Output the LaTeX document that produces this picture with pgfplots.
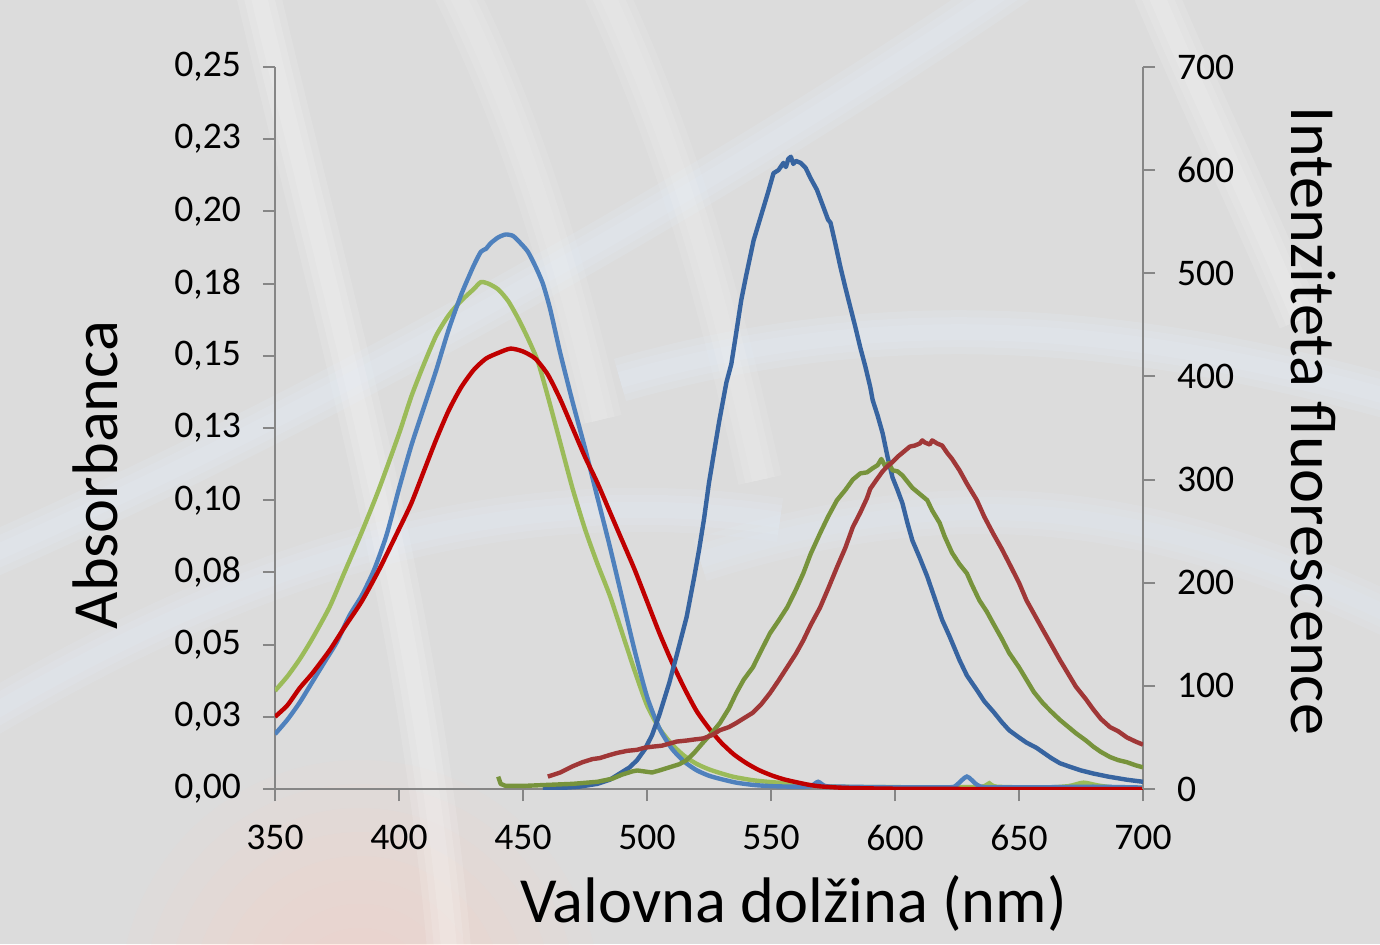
\documentclass[border=0pt]{standalone}
\usepackage{fontspec}
\setmainfont{Carlito}
\usepackage{pgfplots}
\pgfplotsset{compat=1.18}
\usetikzlibrary{backgrounds}

\definecolor{bggray}{RGB}{220,220,220}
\definecolor{axisgray}{RGB}{134,134,134}
\definecolor{absblue}{RGB}{79,129,189}
\definecolor{absred}{RGB}{192,0,0}
\definecolor{absgreen}{RGB}{155,187,89}
\definecolor{flblue}{RGB}{55,100,160}
\definecolor{flred}{RGB}{160,55,55}
\definecolor{flgreen}{RGB}{119,147,60}
\definecolor{strand}{RGB}{228,238,250}
\definecolor{glow}{RGB}{255,212,198}

% absorbance spectra (nm, A)
\pgfplotstableread{
x y
350 0.019
355 0.024
360 0.030
365 0.037
370 0.044
375 0.051
380 0.060
385 0.067
390 0.076
395 0.088
400 0.104
405 0.119
410 0.132
415 0.145
420 0.159
425 0.171
430 0.181
433 0.186
435 0.187
437 0.189
440 0.191
443 0.192
446 0.1915
449 0.189
452 0.186
455 0.181
458 0.175
461 0.166
465 0.151
470 0.134
475 0.118
480 0.101
485 0.084
490 0.066
495 0.048
500 0.032
505 0.021
510 0.014
515 0.0095
520 0.0065
525 0.0046
530 0.0034
536 0.0022
543 0.0014
550 0.001
560 0.0008
566 0.001
569 0.0025
572 0.001
580 0.0008
600 0.0006
622 0.0006
625 0.0015
629 0.0043
633 0.0015
637 0.0006
660 0.0006
680 0.0008
700 0.0005
}\absblue
\pgfplotstableread{
x y
350 0.025
355 0.029
360 0.035
365 0.040
372 0.048
378 0.056
385 0.065
392 0.076
400 0.090
405 0.099
410 0.110
415 0.121
420 0.131
425 0.139
430 0.145
435 0.149
440 0.151
445 0.1525
450 0.1515
455 0.149
460 0.1435
465 0.135
470 0.125
475 0.115
480 0.106
485 0.096
490 0.086
495 0.076
500 0.065
505 0.054
510 0.044
515 0.035
520 0.027
525 0.021
530 0.016
535 0.012
540 0.009
545 0.0066
550 0.0048
555 0.0034
560 0.0024
565 0.0015
570 0.0009
580 0.0004
600 0.0001
640 0
700 0
}\absred
\pgfplotstableread{
x y
350 0.034
355 0.039
360 0.045
365 0.052
372 0.063
378 0.075
385 0.089
392 0.104
400 0.123
405 0.136
410 0.147
415 0.157
420 0.164
425 0.169
430 0.173
433 0.1755
436 0.175
440 0.173
444 0.169
448 0.163
452 0.156
456 0.148
460 0.136
465 0.120
470 0.104
475 0.090
480 0.078
485 0.067
490 0.054
495 0.041
500 0.029
505 0.021
510 0.0155
515 0.0115
520 0.0087
525 0.0068
530 0.0054
535 0.0042
543 0.003
550 0.0024
556 0.002
570 0.001
583 0.0007
620 0.0006
635 0.0008
638 0.002
641 0.0008
660 0.0005
670 0.001
676 0.0022
682 0.0012
690 0.0004
700 0.0004
}\absgreen

% fluorescence spectra (nm, intensity)
\pgfplotstableread{
x y
458 0
465 1
472 2
480 5
485 9
489 15
493 21
496 28
499 38
502 52
505 72
509 103
512 130
516 167
519 205
521 232
523 262
525 297
527 326
529 355
532 394
534 412
535.5 435
538 474
540 498
543 532
545 548
547 564
549 580
551 597
553 600
555 607
556 603
557 611
558 613
559 606
560 609
562 607
564 602
566 592
568.5 581
571 565
573 552
574 549
576 528
578 506
580 486
582 467
584 448
586 428
588 410
590 390
591 377
593 362
595 345
597 322
599 302
601 290
603 277
605 258
607 241
610 224
613 206
616 185
619 164
622 148
626 125
629 110
633 96
636 85
640 74
643 65
646 57
650 50
653 45
657 40
660 35
663 30
666.5 25
670 22
675 18
680 15
686 12
693.5 9
700 7
}\flblue
\pgfplotstableread{
x y
460 12
465 16
470 22
474 26
478 29
481 30
485 33
488 35
492 37
496 38
499 40
502 41
506 42
509 44
512 46
516 47
519 48
522.6 49
526 52
529.4 57
533 60
536 64
540 70
542.7 74
546 82
549.6 93
553 105
556.5 118
560 131
563 144
566 159
569.8 176
573 194
576.6 215
580 234
583 254
586 268
588.7 282
590 291
592.6 300
595 308
597 313
599 317
601 322
603 326
606 332
608 333
610 335
611 338
612 336
614 334
615 338
617 335
619 333
621 326
623 320
626 309
629 296
633 280
636 264
639.5 248
643 233
646 219
650 200
653 183
656 170
659.7 154
663 140
666.5 125
670 111
673 99
677 87
680 77
683 68
686.7 60
690 56
693.5 50
697 46
700 43
}\flred
\pgfplotstableread{
x y
440 12
441 5
443 3
450 3
460 4
470 5
480 7
486 10
490 14
494 17
496 18
499 17
502 16
505 18
509 21
513 24
516 28
519 35
522.6 45
526 54
529.4 64
533 78
536 93
539 106
542.7 118
546 134
549.6 151
553 163
556.5 176
560 193
563 209
566 228
569.8 248
573 264
576.6 280
580 290
583 300
586 306
588.7 307
591 311
593 314
594.5 320
596 313
597.5 316
599 309
601 308
603 304
605 298
607 292
610 286
613 280
615 270
618 258
620 245
623 229
626 218
629 209
631 198
634 183
637 172
639.5 161
643 146
646 132
650 118
653 106
656 94
659.7 83
663 75
666.5 67
670 60
673 54
677 47
680 41
683 36
686.7 31
690 28
693.5 26
697 23
700 21
}\flgreen

\begin{document}
\begin{tikzpicture}
\pgfplotsset{
  common/.style={
    scale only axis, width=434pt, height=361pt,
    xmin=350, xmax=700,
    axis line style={draw=axisgray, line width=1pt},
    tick align=outside, major tick length=6pt,
    tick style={draw=axisgray, line width=1pt},
    ticklabel style={font=\fontsize{18.8}{22}\selectfont, text=black},
    /pgf/number format/assume math mode=true,
  }
}
\begin{axis}[common,
  ymin=0, ymax=0.25,
  axis x line*=bottom, axis y line*=left,
  xtick={350,400,450,500,550,600,650,700},
  xticklabels={350,400,450,500,550,600,650,700},
  ytick={0,0.025,0.05,0.075,0.1,0.125,0.15,0.175,0.2,0.225,0.25},
  yticklabels={{0,00},{0,03},{0,05},{0,08},{0,10},{0,13},{0,15},{0,18},{0,20},{0,23},{0,25}},
  xticklabel style={yshift=-8.5pt},
  yticklabel style={xshift=-7.5pt},
]
\addplot[absgreen, line width=2.2pt, smooth, tension=0.4] table {\absgreen};
\addplot[absblue, line width=2.2pt, smooth, tension=0.4] table {\absblue};
\addplot[absred, line width=2.2pt, smooth, tension=0.4] table {\absred};
\end{axis}
\begin{axis}[common,
  ymin=0, ymax=700,
  axis x line=none, axis y line*=right,
  ytick={0,100,...,700},
  yticklabels={0,100,200,300,400,500,600,700},
  yticklabel style={xshift=7.5pt},
]
\addplot[flblue, line width=2.2pt, line join=round] table {\flblue};
\addplot[flgreen, line width=2.2pt, line join=round] table {\flgreen};
\addplot[flred, line width=2.2pt, line join=round] table {\flred};
\end{axis}

\node[font=\fontsize{32.2}{38}\selectfont] at (259.25pt,-57pt) {Valovna dolžina (nm)};
\node[font=\fontsize{32.2}{38}\selectfont, rotate=90] at (-90pt,157pt) {Absorbanca};
\node[font=\fontsize{32.2}{38}\selectfont, rotate=-90] at (519pt,184pt) {Intenziteta fluorescence};

\begin{scope}[on background layer]
  \fill[bggray] (-137.5pt,-77.5pt) rectangle (552.5pt,394.5pt);
  \begin{scope}[x=0.5pt, y=-0.5pt, shift={(-137.5pt,394.5pt)}]
    \clip (0,0) rectangle (1380,944);
    \foreach \r in {240,216,...,24} {
      \fill[glow, opacity=0.08] (360,1000) circle (\r);
    }
    \foreach \w in {22pt,15pt,8pt} {
      \draw[white, opacity=0.13, line width=\w] (255,-20) .. controls (330,300) and (420,600) .. (450,960);
      \draw[white, opacity=0.10, line width=\w] (450,-20) .. controls (520,120) and (560,250) .. (600,420);
      \draw[white, opacity=0.10, line width=\w] (600,-20) .. controls (680,150) and (720,300) .. (760,480);
      \draw[strand, opacity=0.18, line width=\w] (-20,560) .. controls (300,420) and (700,200) .. (1020,-20);
      \draw[strand, opacity=0.16, line width=\w] (-20,720) .. controls (250,560) and (500,480) .. (780,520);
      \draw[strand, opacity=0.18, line width=\w] (620,380) .. controls (900,300) and (1150,330) .. (1400,400);
      \draw[strand, opacity=0.14, line width=\w] (700,560) .. controls (950,480) and (1150,500) .. (1400,620);
      \draw[white, opacity=0.12, line width=\w] (1150,-20) .. controls (1200,100) and (1250,200) .. (1300,320);
    }
  \end{scope}
\end{scope}
\end{tikzpicture}
\end{document}
